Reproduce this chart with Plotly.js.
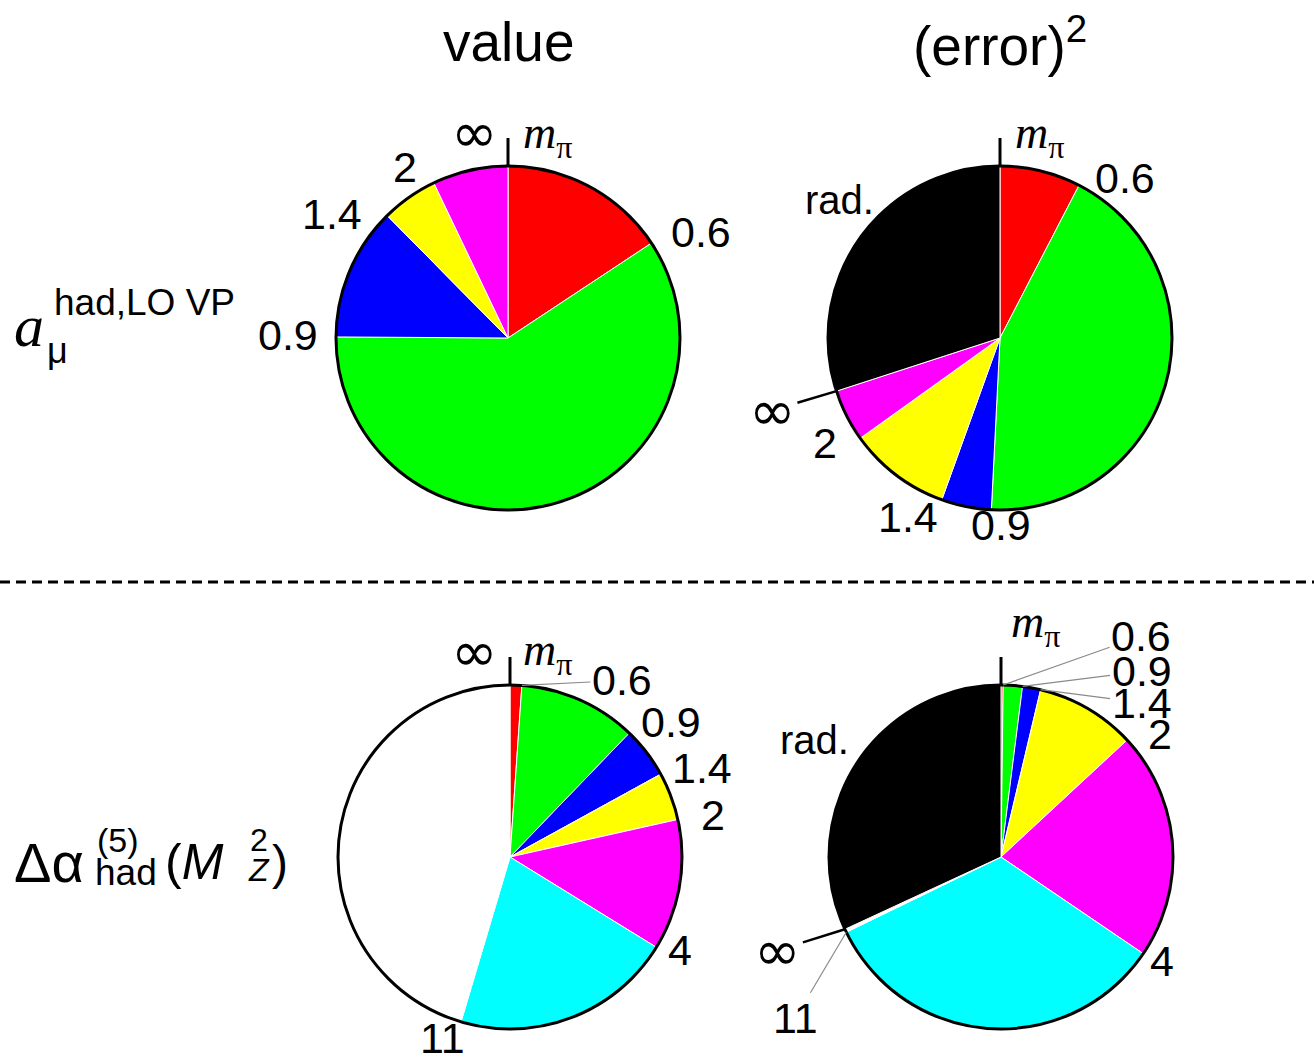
<!DOCTYPE html>
<html>
<head>
<meta charset="utf-8">
<script src="https://cdn.plot.ly/plotly-3.0.1.min.js"></script>
<style>
  html, body { margin: 0; padding: 0; background: #fff; }
  #chart { width: 1314px; height: 1063px; }
</style>
</head>
<body>
<div id="chart"></div>
<script>
// Fractional contributions (%) of each energy interval, clockwise from the top.
const muValueShares   = [15.7, 59.4, 12.5, 5.3, 7.1];
const muErrorShares   = [7.6, 43.2, 4.7, 9.6, 4.9, 30.0];
const alphaValueShares = [1.1, 11.1, 4.8, 4.5, 12.3, 20.8, 45.4];
const alphaErrorShares = [0.2, 1.8, 1.7, 9.4, 21.4, 33.3, 0.3, 31.9];

// Interval boundaries (GeV) written at the slice edges.
const muValueEdges    = ['m', '0.6', '0.9', '1.4', '2', '∞'];
const muErrorEdges    = ['m', '0.6', '0.9', '1.4', '2', '∞'];
const alphaValueEdges = ['m', '0.6', '0.9', '1.4', '2', '4', '11', '∞'];
const alphaErrorEdges = ['m', '0.6', '0.9', '1.4', '2', '4', '11', '∞'];

// Interval names used for hover text.
const muIntervals    = ['mπ–0.6', '0.6–0.9', '0.9–1.4', '1.4–2', '2–∞', 'rad.'];
const alphaIntervals = ['mπ–0.6', '0.6–0.9', '0.9–1.4', '1.4–2', '2–4', '4–11', '11–∞', 'rad.'];

const columnTitles = ['value', '(error)<sup>2</sup>'];

const C = {
  red: '#ff0000', green: '#00ff00', blue: '#0000ff', yellow: '#ffff00',
  magenta: '#ff00ff', cyan: '#00ffff', white: '#ffffff', black: '#000000'
};
const muColors    = [C.red, C.green, C.blue, C.yellow, C.magenta, C.black];
const alphaColors = [C.red, C.green, C.blue, C.yellow, C.magenta, C.cyan, C.white, C.black];

const W = 1314, H = 1063, R = 172;
const px = v => v / W;
const py = v => 1 - v / H;

const SANS = 'Liberation Sans, Arial, sans-serif';
const SERIF = 'Liberation Serif, Times New Roman, serif';
const LABEL = 43;

// Label placement: offset (px) of the text centre from the edge point on the rim,
// or a leader line (ax, ay) drawn from the rim to the text.
const pies = [
  { cx: 508, cy: 338, values: muValueShares, colors: muColors, names: muIntervals, edges: muValueEdges,
    place: [ {dx: 40, dy: -30}, {dx: 50, dy: -11}, {dx: -48, dy: -2}, {dx: -55, dy: -2},
             {dx: -29, dy: -16}, {dx: -34, dy: -34} ] },
  { cx: 1000, cy: 338, values: muErrorShares, colors: muColors, names: muIntervals, edges: muErrorEdges,
    place: [ {dx: 40, dy: -30}, {dx: 46, dy: -7}, {dx: 10, dy: 15}, {dx: -34, dy: 17},
             {dx: -35, dy: 5}, {ax: -64, ay: 19, lead: 'black'} ],
    rad: {dx: -21, dy: -37} },
  { cx: 510, cy: 857, values: alphaValueShares, colors: alphaColors, names: alphaIntervals, edges: alphaValueEdges,
    place: [ {dx: 38, dy: -32}, {ax: 100, ay: -5, lead: 'gray'}, {dx: 42, dy: -11}, {dx: 41, dy: -6},
             {dx: 35, dy: -4}, {dx: 24, dy: 3}, {dx: -18, dy: 16}, {dx: -35, dy: -34} ] },
  { cx: 1001, cy: 857, values: alphaErrorShares, colors: alphaColors, names: alphaIntervals, edges: alphaErrorEdges,
    place: [ {dx: 35, dy: -60}, {ax: 138, ay: -49, lead: 'gray'}, {ax: 119, ay: -15, lead: 'gray'},
             {ax: 101, ay: 13, lead: 'gray'}, {dx: 33, dy: -6}, {dx: 19, dy: 7},
             {ax: -51, ay: 86, lead: 'gray'}, {ax: -67, ay: 21, lead: 'black'} ],
    rad: {dx: -42, dy: -24} }
];

const traces = [];
const annotations = [];
const shapes = [];

function rimPoint(p, deg) {
  const a = deg * Math.PI / 180;
  return [p.cx + R * Math.sin(a), p.cy - R * Math.cos(a)];
}

function edgeText(t) {
  if (t === 'm') return { text: '<i>m</i><sub>π</sub>', font: { family: SERIF, size: 46, color: '#000' } };
  if (t === '∞') return { text: '∞', font: { family: 'DejaVu Sans, sans-serif', size: 56, color: '#000' } };
  return { text: t, font: { family: SANS, size: LABEL, color: '#000' } };
}

pies.forEach(p => {
  const domain = {
    x: [px(p.cx - R), px(p.cx + R)],
    y: [py(p.cy + R), py(p.cy - R)]
  };
  traces.push({
    type: 'pie', values: p.values, labels: p.names.slice(0, p.values.length),
    marker: { colors: p.colors.slice(0, p.values.length), line: { color: '#ffffff', width: 1 } },
    sort: false, direction: 'clockwise', rotation: 0,
    textinfo: 'none', hoverinfo: 'label+percent', domain: domain, showlegend: false
  });
  // black rim
  traces.push({
    type: 'pie', values: [1], labels: [' '],
    marker: { colors: ['rgba(0,0,0,0)'], line: { color: '#000', width: 3 } },
    sort: false, textinfo: 'none', hoverinfo: 'skip', domain: domain, showlegend: false
  });
  // tick at the starting edge
  shapes.push({ type: 'line', xref: 'paper', yref: 'paper',
    x0: px(p.cx), x1: px(p.cx), y0: py(p.cy - R), y1: py(p.cy - R - 28),
    line: { color: '#000', width: 3 } });

  const total = p.values.reduce((s, v) => s + v, 0);
  let cum = 0;
  const edgeAngles = [0];
  p.values.forEach(v => { cum += v; edgeAngles.push(cum / total * 360); });

  p.edges.forEach((t, i) => {
    const pl = p.place[i];
    const ang = edgeAngles[i];
    const [x, y] = rimPoint(p, ang);
    const et = edgeText(t);
    if (pl.lead) {
      annotations.push({ xref: 'paper', yref: 'paper', x: px(x), y: py(y),
        text: et.text, font: et.font, showarrow: true, arrowhead: 0, standoff: 0,
        arrowcolor: pl.lead === 'black' ? '#000' : '#8a8a8a', arrowwidth: pl.lead === 'black' ? 2.5 : 1.2,
        ax: pl.ax, ay: pl.ay });
    } else {
      annotations.push({ xref: 'paper', yref: 'paper', x: px(x + pl.dx), y: py(y + pl.dy),
        xanchor: 'center', yanchor: 'middle', text: et.text, font: et.font, showarrow: false });
    }
  });

  if (p.rad) {
    const n = p.values.length;
    const mid = (edgeAngles[n - 1] + 360) / 2;
    const [x, y] = rimPoint(p, mid);
    annotations.push({ xref: 'paper', yref: 'paper', x: px(x + p.rad.dx), y: py(y + p.rad.dy),
      xanchor: 'center', yanchor: 'middle', text: 'rad.', font: { family: SANS, size: 40, color: '#000' },
      showarrow: false });
  }
});

// column titles
[508, 1000].forEach((x, i) => {
  annotations.push({ xref: 'paper', yref: 'paper', x: px(x), y: py(42), xanchor: 'center', yanchor: 'middle',
    text: columnTitles[i], font: { family: SANS, size: 55, color: '#000' }, showarrow: false });
});

// row labels
function txt(x, y, text, size, family, xanchor) {
  annotations.push({ xref: 'paper', yref: 'paper', x: px(x), y: py(y), xanchor: xanchor || 'center',
    yanchor: 'middle', text: text, font: { family: family, size: size, color: '#000' }, showarrow: false });
}
txt(29, 326, '<i>a</i>', 60, SERIF);
txt(144, 302, 'had,LO VP', 37, SANS);
txt(57, 350, 'μ', 36, SANS);

txt(12, 862, 'Δα', 56, SANS, 'left');
txt(95, 840, '(5)', 34, SANS, 'left');
txt(93, 872, 'had', 37, SANS, 'left');
txt(163, 862, '(<i>M</i>', 50, SANS, 'left');
txt(259, 840, '2', 32, SANS);
txt(259, 870, '<i>Z</i>', 32, SANS);
txt(270, 862, ')', 48, SANS, 'left');

// separator between the two rows
shapes.push({ type: 'line', xref: 'paper', yref: 'paper', x0: 0, x1: 1, y0: py(582), y1: py(582),
  line: { color: '#000', width: 3, dash: '10px,6px' } });

Plotly.newPlot('chart', traces, {
  width: W, height: H, margin: { l: 0, r: 0, t: 0, b: 0 },
  paper_bgcolor: '#fff', plot_bgcolor: '#fff', showlegend: false,
  annotations: annotations, shapes: shapes
}, { displayModeBar: false, staticPlot: true });
</script>
</body>
</html>
